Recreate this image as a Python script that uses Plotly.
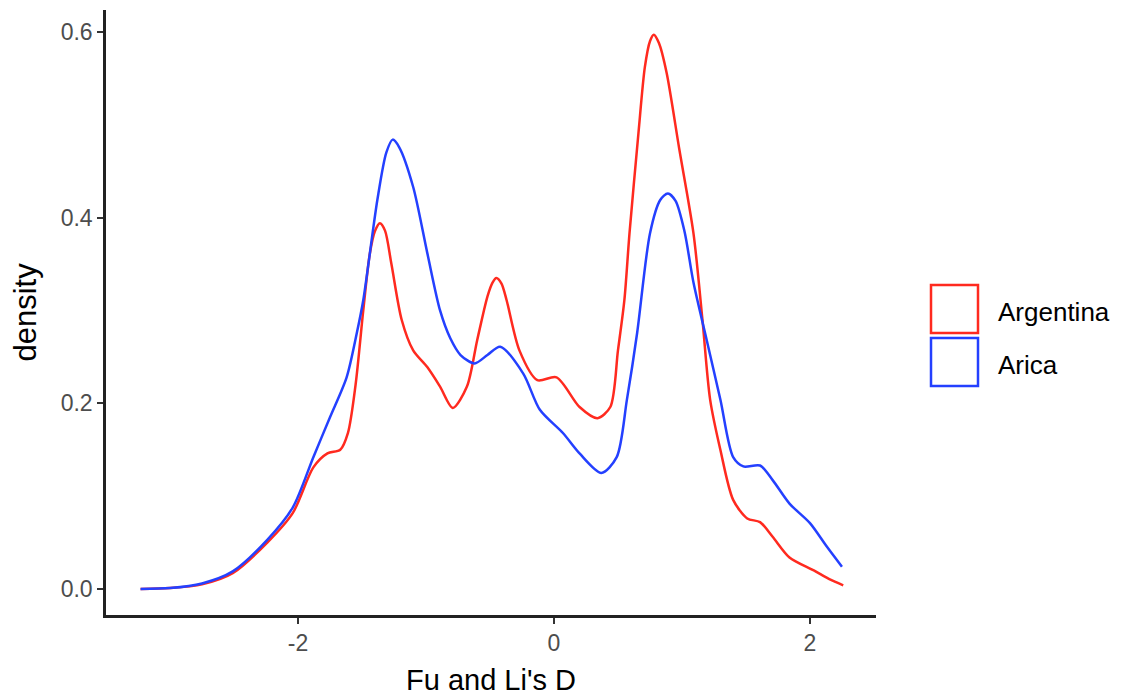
import plotly.graph_objects as go

# Kernel density curves
arg_x = [-3.23, -3.0, -2.75, -2.51, -2.24, -2.04, -1.88, -1.77, -1.67, -1.61, -1.55, -1.49,
         -1.44, -1.40, -1.36, -1.32, -1.27, -1.19, -1.10, -0.99, -0.89, -0.79, -0.68, -0.60,
         -0.52, -0.48, -0.45, -0.41, -0.37, -0.27, -0.13, 0.02, 0.20, 0.34, 0.44, 0.50, 0.55,
         0.59, 0.66, 0.71, 0.75, 0.78, 0.82, 0.88, 0.98, 1.09, 1.16, 1.22, 1.30, 1.40, 1.51,
         1.61, 1.71, 1.84, 2.03, 2.16, 2.26]
arg_y = [0.0, 0.001, 0.005, 0.017, 0.050, 0.082, 0.131, 0.146, 0.150, 0.168, 0.220, 0.300,
         0.360, 0.385, 0.394, 0.386, 0.350, 0.290, 0.257, 0.239, 0.218, 0.195, 0.218, 0.268,
         0.315, 0.330, 0.335, 0.329, 0.311, 0.257, 0.225, 0.228, 0.196, 0.184, 0.196, 0.257, 0.311,
         0.383, 0.491, 0.562, 0.590, 0.597, 0.588, 0.556, 0.473, 0.383, 0.290, 0.204, 0.150, 0.096,
         0.076, 0.072, 0.056, 0.034, 0.020, 0.010, 0.004]

ari_x = [-3.23, -3.0, -2.75, -2.51, -2.24, -2.04, -1.88, -1.75, -1.62, -1.54, -1.49, -1.38,
         -1.31, -1.26, -1.21, -1.10, -0.99, -0.89, -0.81, -0.73, -0.62, -0.52, -0.42, -0.24,
         -0.11, 0.07, 0.20, 0.37, 0.49, 0.57, 0.65, 0.75, 0.83, 0.89, 0.95, 1.02, 1.09, 1.19,
         1.30, 1.40, 1.48, 1.61, 1.71, 1.84, 2.00, 2.13, 2.25]
ari_y = [0.0, 0.001, 0.006, 0.019, 0.053, 0.088, 0.142, 0.185, 0.228, 0.276, 0.311, 0.419,
         0.470, 0.484, 0.476, 0.433, 0.362, 0.300, 0.270, 0.252, 0.243, 0.252, 0.261, 0.232,
         0.193, 0.168, 0.146, 0.125, 0.142, 0.204, 0.276, 0.383, 0.419, 0.426, 0.418, 0.385,
         0.330, 0.270, 0.204, 0.142, 0.132, 0.133, 0.117, 0.092, 0.071, 0.046, 0.024]

series_names = ["Argentina", "Arica"]
colors = ["#FF2A1F", "#2440FF"]
x_ticks = [-2, 0, 2]
x_tick_text = ["-2", "0", "2"]
y_ticks = [0.0, 0.2, 0.4, 0.6]
y_tick_text = ["0.0", "0.2", "0.4", "0.6"]

fig = go.Figure()
for name, xs, ys, c in [(series_names[0], arg_x, arg_y, colors[0]),
                         (series_names[1], ari_x, ari_y, colors[1])]:
    fig.add_trace(go.Scatter(x=xs, y=ys, mode="lines", name=name,
                             line=dict(color=c, width=2.5, shape="spline", smoothing=0.8),
                             showlegend=False))

font_family = "Liberation Sans, Arial, sans-serif"
L, R, T, B = 106, 876, 10, 615
W, H = R - L, B - T
fig.update_layout(
    width=1125, height=700,
    margin=dict(l=L, r=1125 - R, t=T, b=700 - B),
    plot_bgcolor="white", paper_bgcolor="white",
    font=dict(family=font_family, color="#4D4D4D"),
    xaxis=dict(range=[-3.5, 2.516], tickvals=x_ticks, ticktext=x_tick_text, ticks="outside",
               ticklen=6, tickwidth=2, tickcolor="#333333", showline=True, linecolor="#222222",
               linewidth=2.5, showgrid=False, zeroline=False,
               tickfont=dict(size=23, color="#4D4D4D")),
    yaxis=dict(range=[-0.028, 0.6236], tickvals=y_ticks, ticktext=y_tick_text, ticks="outside",
               ticklen=6, tickwidth=2, tickcolor="#333333", showline=True, linecolor="#222222",
               linewidth=2.5, showgrid=False, zeroline=False,
               tickfont=dict(size=23, color="#4D4D4D")),
)

# Axis titles
fig.add_annotation(xref="paper", yref="paper", x=0.5, y=(B - 680) / H, text="Fu and Li's D",
                   showarrow=False, xanchor="center", yanchor="middle",
                   font=dict(size=29, color="black", family=font_family))
fig.add_annotation(xref="paper", yref="paper", x=(25 - L) / W, y=0.5, text="density",
                   showarrow=False, xanchor="center", yanchor="middle", textangle=-90,
                   font=dict(size=31, color="black", family=font_family))

# Manual legend (ggplot-style outlined keys)
legend_top = [285, 338]
for i, (name, c) in enumerate(zip(series_names, colors)):
    y0 = legend_top[i]
    fig.add_shape(type="rect", xref="paper", yref="paper",
                  x0=(931 - L) / W, x1=(978 - L) / W,
                  y0=(B - (y0 + 48)) / H, y1=(B - y0) / H,
                  line=dict(color=c, width=2.5), fillcolor="white")
    fig.add_annotation(xref="paper", yref="paper", x=(996 - L) / W,
                       y=(B - (y0 + 27)) / H, text=name, showarrow=False,
                       xanchor="left", yanchor="middle",
                       font=dict(size=26, color="black", family=font_family))

fig.write_html("out.html")
